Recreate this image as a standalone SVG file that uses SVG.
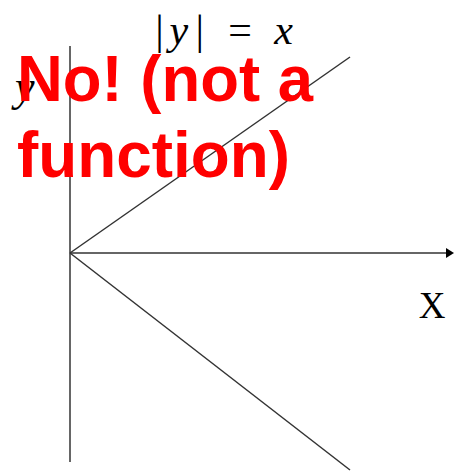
<svg xmlns="http://www.w3.org/2000/svg" width="454" height="471" viewBox="0 0 454 471">
<style>
.ax{stroke:#333;stroke-width:1.5;fill:none}
.ln{stroke:#333;stroke-width:1.5;fill:none}
.serif{font-family:"Liberation Serif","DejaVu Serif",serif;fill:#000}
.red{font-family:"Liberation Sans",Arial,sans-serif;font-weight:bold;fill:#ff0000;font-size:64px}
</style>
<defs>
<marker id="arr" markerWidth="8" markerHeight="10" refX="6" refY="5" orient="auto" markerUnits="userSpaceOnUse">
<path d="M0,0 L8,5 L0,10 Z" fill="#000"/>
</marker>
</defs>
<g id="connectors">
<line class="ax" x1="70" y1="46" x2="70" y2="462"/>
<line class="ax" x1="70" y1="253" x2="452" y2="253" marker-end="url(#arr)"/>
<line class="ln" x1="70" y1="253" x2="350" y2="57"/>
<line class="ln" x1="70" y1="253" x2="350" y2="470"/>
</g>
<g id="title"><text class="serif" x="153" y="44" font-size="42" font-style="italic" textLength="140" lengthAdjust="spacing">|y| = x</text></g>
<g id="ylabel"><text class="serif" x="15" y="101" font-size="44" font-style="italic">y</text></g>
<g id="xlabel"><text class="serif" x="432" y="318" font-size="37" text-anchor="middle">X</text></g>
<g id="note">
<text class="red" x="17" y="101" textLength="296" lengthAdjust="spacingAndGlyphs">No! (not a</text>
<text class="red" x="17" y="177" textLength="273" lengthAdjust="spacingAndGlyphs">function)</text>
</g>
</svg>
